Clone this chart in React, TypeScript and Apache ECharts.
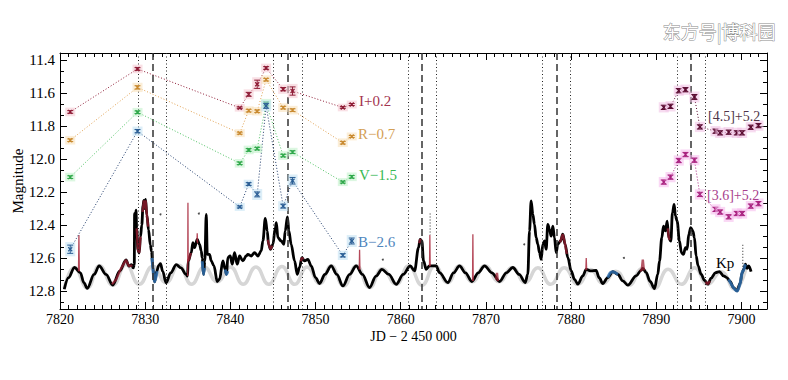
import React, { useEffect, useRef } from "react";
import * as echarts from "echarts";

// ---------- axes ----------
const xMajor = [7820, 7830, 7840, 7850, 7860, 7870, 7880, 7890, 7900];
const yMajor = [11.4, 11.6, 11.8, 12.0, 12.2, 12.4, 12.6, 12.8];
const X_MIN = 7820;
const X_MAX = 7903;
const Y_MIN = 11.355;
const Y_MAX = 12.91;

// ---------- Kepler K2 light curve (JD-2450000, mag) ----------
const lightCurve: number[][] = [
  [7820.5, 12.79], [7821.0, 12.72], [7821.7, 12.658], [7822.4, 12.69], [7822.8, 12.75],
  [7823.2, 12.785], [7824.0, 12.70], [7824.6, 12.648], [7825.4, 12.70], [7826.2, 12.765],
  [7827.0, 12.68], [7827.75, 12.612], [7828.1, 12.65], [7828.4, 12.64], [7828.6, 12.66],
  [7828.72, 12.64], [7828.76, 12.33], [7828.85, 12.37], [7828.92, 12.31], [7829.0, 12.42],
  [7829.15, 12.55], [7829.3, 12.57], [7829.45, 12.47], [7829.6, 12.40], [7829.75, 12.28],
  [7829.85, 12.25], [7829.95, 12.30], [7830.05, 12.245], [7830.2, 12.34], [7830.4, 12.43],
  [7830.6, 12.52], [7830.75, 12.56], [7830.9, 12.66], [7831.1, 12.745], [7831.35, 12.68],
  [7831.6, 12.645], [7831.8, 12.635], [7832.05, 12.68], [7832.45, 12.75], [7833.0, 12.69],
  [7833.65, 12.64], [7834.2, 12.66], [7834.8, 12.70], [7834.97, 12.71], [7835.05, 12.62],
  [7835.41, 12.568], [7835.6, 12.507], [7835.8, 12.537], [7836.11, 12.487], [7836.38, 12.517],
  [7836.58, 12.557], [7836.7, 12.60], [7836.85, 12.70], [7837.0, 12.62], [7837.17, 12.335],
  [7837.29, 12.578], [7837.56, 12.578], [7837.75, 12.618], [7838.07, 12.648], [7838.46, 12.743],
  [7838.73, 12.729], [7839.12, 12.618], [7839.4, 12.669], [7839.55, 12.70], [7839.7, 12.598],
  [7839.98, 12.588], [7840.22, 12.638], [7840.49, 12.568], [7840.81, 12.638], [7841.08, 12.588],
  [7841.47, 12.618], [7841.86, 12.588], [7842.06, 12.578], [7842.45, 12.588], [7842.84, 12.568],
  [7843.23, 12.588], [7843.62, 12.557], [7843.82, 12.497], [7844.1, 12.36], [7844.33, 12.436],
  [7844.48, 12.517], [7844.72, 12.547], [7845.0, 12.517], [7845.27, 12.416], [7845.4, 12.386],
  [7845.58, 12.477], [7845.97, 12.497], [7846.28, 12.517], [7846.44, 12.436], [7846.7, 12.35],
  [7846.87, 12.436], [7847.14, 12.517], [7847.54, 12.618], [7847.85, 12.699], [7848.12, 12.658],
  [7848.4, 12.598], [7848.71, 12.618], [7849.1, 12.608], [7849.49, 12.648], [7850.0, 12.72],
  [7850.47, 12.755], [7851.1, 12.70], [7851.84, 12.648], [7852.5, 12.70], [7853.21, 12.77],
  [7854.0, 12.70], [7854.77, 12.648], [7855.5, 12.70], [7856.34, 12.78], [7857.1, 12.71],
  [7857.79, 12.669], [7858.6, 12.70], [7859.47, 12.76], [7860.3, 12.70], [7861.11, 12.648],
  [7861.62, 12.679], [7862.09, 12.537], [7862.28, 12.487], [7862.48, 12.497], [7862.68, 12.618],
  [7862.99, 12.669], [7863.38, 12.648], [7863.77, 12.648], [7864.16, 12.648], [7864.55, 12.689],
  [7865.53, 12.749], [7866.2, 12.69], [7866.9, 12.648], [7867.6, 12.69], [7868.35, 12.743],
  [7869.1, 12.69], [7869.84, 12.648], [7870.7, 12.69], [7871.6, 12.743], [7872.4, 12.69],
  [7873.16, 12.658], [7873.9, 12.70], [7874.61, 12.749], [7874.92, 12.699], [7875.12, 12.436],
  [7875.31, 12.254], [7875.51, 12.335], [7875.7, 12.396], [7875.9, 12.477], [7876.1, 12.517],
  [7876.29, 12.568], [7876.49, 12.608], [7876.68, 12.517], [7876.88, 12.497], [7877.07, 12.547],
  [7877.27, 12.396], [7877.46, 12.426], [7877.66, 12.467], [7877.86, 12.406], [7878.05, 12.477],
  [7878.25, 12.568], [7878.44, 12.517], [7878.76, 12.497], [7879.03, 12.456], [7879.3, 12.517],
  [7879.62, 12.598], [7880.01, 12.679], [7880.4, 12.73], [7880.79, 12.759], [7881.38, 12.709],
  [7881.77, 12.669], [7882.35, 12.679], [7882.94, 12.675], [7883.3, 12.72], [7883.72, 12.755],
  [7884.31, 12.719], [7884.9, 12.683], [7885.48, 12.699], [7886.07, 12.739], [7886.66, 12.765],
  [7887.64, 12.709], [7888.22, 12.675], [7888.42, 12.663], [7888.81, 12.689], [7889.28, 12.743],
  [7889.79, 12.786], [7890.18, 12.699], [7890.38, 12.618], [7890.65, 12.477], [7890.85, 12.406],
  [7891.08, 12.436], [7891.28, 12.376], [7891.47, 12.477], [7891.71, 12.497], [7891.9, 12.325],
  [7892.1, 12.275], [7892.25, 12.345], [7892.45, 12.376], [7892.72, 12.497], [7892.96, 12.568],
  [7893.19, 12.578], [7893.43, 12.537], [7893.62, 12.547], [7893.82, 12.456], [7894.05, 12.416],
  [7894.29, 12.436], [7894.48, 12.477], [7894.68, 12.588], [7894.91, 12.648], [7895.27, 12.699],
  [7895.66, 12.735], [7896.05, 12.759], [7896.44, 12.723], [7896.95, 12.689], [7897.42, 12.683],
  [7897.89, 12.709], [7898.28, 12.719], [7898.67, 12.743], [7899.06, 12.78], [7899.49, 12.8],
  [7899.84, 12.755], [7900.08, 12.689], [7900.27, 12.669], [7900.47, 12.638], [7900.66, 12.663],
  [7900.86, 12.648], [7901.13, 12.683],
];

// grey spot-modulation curve
const spotModel: number[][] = [
  [7820.5, 12.785], [7821.7, 12.658], [7823.2, 12.782], [7824.65, 12.648], [7826.2, 12.765],
  [7827.75, 12.64], [7829.3, 12.76], [7830.9, 12.65], [7832.45, 12.75], [7833.95, 12.645],
  [7835.45, 12.76], [7836.95, 12.655], [7838.45, 12.745], [7840.0, 12.655], [7841.5, 12.76],
  [7843.0, 12.655], [7844.5, 12.76], [7846.05, 12.652], [7847.55, 12.76], [7849.0, 12.655],
  [7850.5, 12.755], [7851.85, 12.648], [7853.3, 12.77], [7854.8, 12.648], [7856.35, 12.78],
  [7857.85, 12.665], [7859.45, 12.76], [7860.95, 12.648], [7862.5, 12.765], [7864.0, 12.648],
  [7865.5, 12.75], [7866.9, 12.648], [7868.4, 12.745], [7869.9, 12.648], [7871.55, 12.745],
  [7873.1, 12.658], [7874.6, 12.75], [7876.1, 12.66], [7877.6, 12.76], [7879.2, 12.66],
  [7880.8, 12.76], [7882.3, 12.67], [7883.75, 12.755], [7885.25, 12.68], [7886.8, 12.765],
  [7888.3, 12.665], [7889.8, 12.785], [7891.4, 12.668], [7892.95, 12.76], [7894.5, 12.66],
  [7896.05, 12.76], [7897.6, 12.683], [7899.2, 12.79], [7900.6, 12.645],
];

// highlighted parts of the light curve
const redSegments: number[][][] = [
  [[7826.1, 12.76], [7826.6, 12.73], [7827.1, 12.67], [7827.75, 12.612], [7828.1, 12.65], [7828.5, 12.645]],
  [[7829.0, 12.42], [7829.15, 12.55], [7829.3, 12.57], [7829.45, 12.47]],
  [[7829.7, 12.32], [7829.85, 12.25], [7829.95, 12.30], [7830.05, 12.25], [7830.2, 12.34], [7830.35, 12.41]],
  [[7835.04, 12.62], [7835.2, 12.6], [7835.35, 12.57]],
  [[7844.4, 12.49], [7844.55, 12.525], [7844.72, 12.547], [7844.9, 12.525]],
  [[7848.28, 12.62], [7848.4, 12.598], [7848.55, 12.61]],
  [[7862.18, 12.51], [7862.28, 12.487], [7862.38, 12.495]],
  [[7871.2, 12.73], [7871.3, 12.69], [7871.4, 12.74]],
  [[7878.7, 12.505], [7879.03, 12.456], [7879.3, 12.517], [7879.5, 12.575]],
  [[7888.1, 12.68], [7888.3, 12.67], [7888.42, 12.61], [7888.55, 12.675]],
  [[7891.35, 12.42], [7891.47, 12.477], [7891.6, 12.49]],
  [[7895.8, 12.745], [7896.05, 12.759], [7896.3, 12.74]],
];
// narrow red flare spikes
const redSpikes: number[][][] = [
  [[7822.17, 12.68], [7822.22, 12.46], [7822.27, 12.68]],
  [[7834.99, 12.71], [7835.02, 12.265], [7835.05, 12.62]],
  [[7836.08, 12.5], [7836.11, 12.45], [7836.15, 12.51]],
  [[7855.13, 12.67], [7855.17, 12.55], [7855.21, 12.67]],
  [[7863.38, 12.65], [7863.42, 12.46], [7863.46, 12.65]],
  [[7868.43, 12.74], [7868.47, 12.456], [7868.51, 12.74]],
  [[7881.73, 12.675], [7881.78, 12.6], [7881.83, 12.672]],
];
const blueSegments: number[][][] = [
  [[7830.8, 12.6], [7830.95, 12.69], [7831.1, 12.745], [7831.25, 12.72], [7831.4, 12.68]],
  [[7836.7, 12.62], [7836.85, 12.70], [7836.95, 12.66]],
  [[7839.4, 12.67], [7839.55, 12.70], [7839.7, 12.68]],
  [[7884.3, 12.719], [7884.6, 12.69], [7884.9, 12.683], [7885.2, 12.69], [7885.5, 12.70]],
  [[7898.5, 12.73], [7899.06, 12.78], [7899.49, 12.8], [7899.84, 12.755], [7900.08, 12.689], [7900.27, 12.669], [7900.47, 12.638]],
];
const dottedStubs: number[][][] = [
  [[7900.16, 12.52], [7900.16, 12.67]],
  [[7863.45, 12.33], [7863.45, 12.46]],
];
const strayDots: number[][] = [
  [7831.8, 12.335], [7836.3, 12.33], [7874.5, 12.517], [7857.9, 12.61], [7886.2, 12.6],
];

// vertical event markers
const dottedTimes = [7829.14, 7832.47, 7844.99, 7848.44, 7860.83, 7864.17, 7876.6, 7879.93, 7892.45, 7895.78];
const dashedTimes = [7830.83, 7846.68, 7862.52, 7878.32, 7894.1];

// ground-based photometry (offset magnitudes)
const optTimes = [7821.2, 7829.1, 7841.1, 7842.15, 7843.15, 7844.2, 7846.2, 7847.3, 7853.2, 7854.25];
const magI = [11.713, 11.452, 11.688, 11.606, 11.545, 11.446, 11.575, 11.586, 11.686, 11.668];
const errI = [0.008, 0.008, 0.005, 0.012, 0.025, 0.008, 0.01, 0.025, 0.005, 0.006];
const magR = [11.885, 11.564, 11.842, 11.705, 11.709, 11.517, 11.687, 11.702, 11.9, 11.862];
const errR = [0.008, 0.01, 0.006, 0.008, 0.008, 0.008, 0.008, 0.008, 0.008, 0.006];
const magV = [12.109, 11.715, 12.025, 11.944, 11.936, 11.664, 11.978, 11.957, 12.139, 12.107];
const errV = [0.008, 0.008, 0.008, 0.008, 0.008, 0.012, 0.008, 0.008, 0.006, 0.008];
const magB = [12.547, 11.83, 12.29, 12.151, 12.214, 11.676, 12.285, 12.131, 12.584, 12.497];
const errB = [0.025, 0.01, 0.006, 0.008, 0.015, 0.015, 0.012, 0.02, 0.01, 0.018];

// Spitzer photometry
const spTimes = [7890.88, 7891.67, 7892.64, 7893.43, 7894.48, 7895.12, 7896.95, 7897.5, 7898.5, 7899.45, 7900.08, 7901.1, 7902.0];
const mag45 = [11.685, 11.679, 11.584, 11.578, 11.622, 11.804, 11.83, 11.84, 11.836, 11.84, 11.84, 11.806, 11.796];
const err45 = [0.013, 0.013, 0.013, 0.013, 0.015, 0.013, 0.013, 0.013, 0.013, 0.013, 0.013, 0.013, 0.013];
const mag36 = [12.139, 12.109, 12.008, 11.972, 12.006, 12.214, 12.305, 12.321, 12.35, 12.33, 12.33, 12.285, 12.27];
const err36 = [0.013, 0.013, 0.013, 0.013, 0.013, 0.013, 0.013, 0.013, 0.013, 0.013, 0.013, 0.013, 0.013];

const SERIF = '"Liberation Serif", "DejaVu Serif", serif';

function errSeries(t: number[], v: number[], e: number[], color: string, halo: string) {
  return {
    type: "custom",
    z: 10,
    data: t.map((x, i) => [x, v[i], e[i]]),
    encode: { x: 0, y: 1 },
    renderItem: (params: any, api: any) => {
      const x = api.value(0);
      const y = api.value(1);
      const er = api.value(2);
      const c = api.coord([x, y]);
      const a = api.coord([x, y - er]);
      const b = api.coord([x, y + er]);
      const top = Math.min(a[1], b[1]);
      const bot = Math.max(a[1], b[1]);
      const w = 3;
      const st = { stroke: color, lineWidth: 1 };
      return {
        type: "group",
        children: [
          { type: "rect", shape: { x: c[0] - 5, y: top - 3, width: 10, height: bot - top + 6 }, style: { fill: halo, opacity: 0.55 } },
          { type: "line", shape: { x1: c[0], y1: top, x2: c[0], y2: bot }, style: st },
          { type: "line", shape: { x1: c[0] - w, y1: top, x2: c[0] + w, y2: top }, style: st },
          { type: "line", shape: { x1: c[0] - w, y1: bot, x2: c[0] + w, y2: bot }, style: st },
          { type: "line", shape: { x1: c[0] - 2, y1: c[1] - 2, x2: c[0] + 2, y2: c[1] + 2 }, style: { stroke: color, lineWidth: 1.2 } },
          { type: "line", shape: { x1: c[0] - 2, y1: c[1] + 2, x2: c[0] + 2, y2: c[1] - 2 }, style: { stroke: color, lineWidth: 1.2 } },
        ],
      };
    },
  };
}

function connector(t: number[], v: number[], color: string) {
  return {
    type: "line",
    z: 8,
    data: t.map((x, i) => [x, v[i]]),
    symbol: "none",
    lineStyle: { color, width: 1, type: [1, 2] },
    silent: true,
  };
}

export default function App() {
  const ref = useRef<HTMLDivElement>(null);
  useEffect(() => {
    if (!ref.current) return;
    const chart = echarts.init(ref.current, undefined, { renderer: "svg" });

    const xMinor: number[] = [];
    for (let v = X_MIN; v <= X_MAX; v += 1) if (v % 10 !== 0) xMinor.push(v);
    const yMinor: number[] = [];
    for (let k = 0; k < 40; k++) {
      const v = 11.4 + (k * 0.2) / 3;
      if (v > Y_MAX) break;
      if (k % 3 !== 0) yMinor.push(+v.toFixed(4));
    }

    const axisLine = { show: true, lineStyle: { color: "#000", width: 1 } };
    const mkX = (pos: string, ticks: number[], len: number, labels: boolean, lineShow: boolean) => ({
      type: "value",
      min: X_MIN,
      max: X_MAX,
      position: pos,
      axisLine: lineShow ? axisLine : { show: false },
      axisTick: { show: true, inside: true, length: len, customValues: ticks, lineStyle: { color: "#000", width: 1 } },
      axisLabel: labels
        ? { show: true, customValues: xMajor, margin: 3, fontFamily: SERIF, fontSize: 14, color: "#000", formatter: (v: number) => String(v) }
        : { show: false },
      splitLine: { show: false },
      ...(labels
        ? {
            name: "JD \u2212 2 450 000",
            nameLocation: "middle",
            nameGap: 20,
            nameMoveOverlap: false,
            nameTextStyle: { fontFamily: SERIF, fontSize: 14, color: "#000" },
          }
        : {}),
    });
    const mkY = (pos: string, ticks: number[], len: number, labels: boolean, lineShow: boolean) => ({
      type: "value",
      inverse: true,
      min: Y_MIN,
      max: Y_MAX,
      position: pos,
      axisLine: lineShow ? axisLine : { show: false },
      axisTick: { show: true, inside: true, length: len, customValues: ticks, lineStyle: { color: "#000", width: 1 } },
      axisLabel: labels
        ? { show: true, customValues: yMajor, margin: 5, fontFamily: SERIF, fontSize: 15, color: "#000", formatter: (v: number) => v.toFixed(1) }
        : { show: false },
      splitLine: { show: false },
      ...(labels
        ? {
            name: "Magnitude",
            nameLocation: "middle",
            nameGap: 35,
            nameMoveOverlap: false,
            nameRotate: 90,
            nameTextStyle: { fontFamily: SERIF, fontSize: 15, color: "#000" },
          }
        : {}),
    });

    const series: any[] = [];
    series.push({
      type: "line",
      z: 1,
      data: spotModel,
      smooth: 0.5,
      symbol: "none",
      lineStyle: { color: "#d6d6d6", width: 3.5 },
      silent: true,
    });
    series.push({
      type: "line",
      z: 3,
      data: lightCurve,
      smooth: 0.35,
      smoothMonotone: "x",
      symbol: "none",
      lineStyle: { color: "#000", width: 2.8 },
      silent: true,
    });
    redSegments.forEach((seg) =>
      series.push({
        type: "line",
        z: 4,
        data: seg,
        symbol: "none",
        lineStyle: { color: "#9c1f33", width: 2.4, opacity: 0.75 },
        silent: true,
      })
    );
    redSpikes.forEach((seg) =>
      series.push({
        type: "line",
        z: 4,
        data: seg,
        symbol: "none",
        lineStyle: { color: "#a8283c", width: 1.3, opacity: 0.85 },
        silent: true,
      })
    );
    blueSegments.forEach((seg) =>
      series.push({
        type: "line",
        z: 4,
        data: seg,
        smooth: 0.3,
        symbol: "none",
        lineStyle: { color: "#2f6fae", width: 3, opacity: 0.85 },
        silent: true,
      })
    );
    dottedStubs.forEach((seg) =>
      series.push({
        type: "line",
        z: 4,
        data: seg,
        symbol: "none",
        lineStyle: { color: "#222", width: 1, type: [1, 2] },
        silent: true,
      })
    );
    series.push({
      type: "scatter",
      z: 4,
      data: strayDots,
      symbolSize: 2,
      itemStyle: { color: "#222" },
      silent: true,
    });
    // vertical event lines
    series.push({
      type: "line",
      z: 6,
      data: [],
      symbol: "none",
      silent: true,
      markLine: {
        silent: true,
        symbol: ["none", "none"],
        label: { show: false },
        animation: false,
        data: [
          ...dottedTimes.map((t) => ({ xAxis: t, lineStyle: { type: [1, 2.5], color: "#222", width: 1 } })),
          ...dashedTimes.map((t) => ({ xAxis: t, lineStyle: { type: [7, 4], color: "#333", width: 1.5 } })),
        ],
      },
    });

    series.push(connector(optTimes, magI, "#8e1b35"));
    series.push(connector(optTimes, magR, "#e0a050"));
    series.push(connector(optTimes, magV, "#4cc060"));
    series.push(connector(optTimes, magB, "#1e3a6a"));
    series.push(connector(spTimes, mag45, "#5a0a30"));
    series.push(connector(spTimes, mag36, "#a8207e"));
    series.push(errSeries(optTimes, magI, errI, "#8e1b35", "#f4c6d0"));
    series.push(errSeries(optTimes, magR, errR, "#c98a30", "#f8e0b8"));
    series.push(errSeries(optTimes, magV, errV, "#2fa84a", "#c0f0c8"));
    series.push(errSeries(optTimes, magB, errB, "#2a5d94", "#c0e0f2"));
    series.push(errSeries(spTimes, mag45, err45, "#5a0a30", "#f0c0e4"));
    series.push(errSeries(spTimes, mag36, err36, "#a8207e", "#f6b8ec"));

    const lbl = (text: string, x: number, y: number, color: string, size = 15) => ({
      type: "text",
      x,
      y,
      z: 20,
      style: { text, fill: color, font: `${size}px ${SERIF}`, textVerticalAlign: "middle" },
      silent: true,
    });

    chart.setOption({
      animation: false,
      backgroundColor: "#fff",
      grid: { left: 60, right: 21, top: 53, bottom: 71, containLabel: false },
      xAxis: [
        mkX("bottom", xMajor, 7, true, true),
        mkX("bottom", xMinor, 4, false, false),
        mkX("top", xMajor, 7, false, true),
        mkX("top", xMinor, 4, false, false),
      ],
      yAxis: [
        mkY("left", yMajor, 7, true, true),
        mkY("left", yMinor, 4, false, false),
        mkY("right", yMajor, 7, false, true),
        mkY("right", yMinor, 4, false, false),
      ],
      series,
      graphic: [
        lbl("I+0.2", 359, 101, "#a3344f"),
        lbl("R\u22120.7", 358, 134, "#d4a055"),
        lbl("V\u22121.5", 359, 175, "#38b955"),
        lbl("B\u22122.6", 358, 242, "#4f86bd"),
        lbl("[4.5]+5.2", 708, 116, "#4e3448", 14),
        lbl("[3.6]+5.2", 707, 195, "#a8408c", 14),
        lbl("Kp", 716, 263, "#000"),
        {
          type: "text",
          right: 12,
          top: 21,
          z: 20,
          style: {
            text: "东方号|博科园",
            fill: "#ffffff",
            stroke: "#8a8a8a",
            lineWidth: 1,
            font: '18px "Noto Sans CJK SC", sans-serif',
          },
          silent: true,
        },
      ],
    });
    return () => chart.dispose();
  }, []);
  return <div ref={ref} style={{ position: "fixed", left: 0, top: 0, width: 788, height: 380, background: "#fff" }} />;
}
